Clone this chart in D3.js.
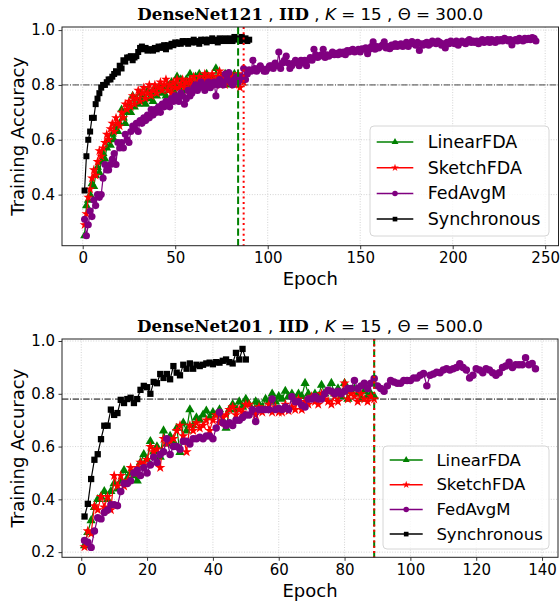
<!DOCTYPE html>
<html>
<head>
<meta charset="utf-8">
<script src="https://cdn.jsdelivr.net/npm/d3@7"></script>
<style>
    body { margin: 0; background: #fff; }
    text { font-family: "DejaVu Sans", sans-serif; }
</style>
</head>
<body>
<div id="chart"></div>
<script>
// ---- top panel: DenseNet121, theta 300 ----
const top_linear = [
    0.25, 0.36, 0.38, 0.40, 0.44, 0.43, 0.47, 0.50, 0.48, 0.52,
    0.55, 0.53, 0.57, 0.60, 0.58, 0.62, 0.60, 0.65, 0.63, 0.66,
    0.71, 0.68, 0.66, 0.70, 0.73, 0.70, 0.76, 0.72, 0.75, 0.73,
    0.77, 0.74, 0.76, 0.73, 0.78, 0.75, 0.77, 0.74, 0.79, 0.76,
    0.78, 0.80, 0.77, 0.79, 0.76, 0.80, 0.78, 0.81, 0.78, 0.80,
    0.83, 0.79, 0.82, 0.80, 0.78, 0.82, 0.80, 0.84, 0.81, 0.79,
    0.83, 0.81, 0.84, 0.80, 0.83, 0.81, 0.84, 0.82, 0.80, 0.83,
    0.81, 0.86, 0.82, 0.80, 0.83, 0.81, 0.84, 0.82, 0.80, 0.83,
    0.82, 0.84, 0.81, 0.83];
const top_sketch = [
    0.29, 0.33, 0.39, 0.42, 0.46, 0.49, 0.47, 0.52, 0.56, 0.54,
    0.57, 0.59, 0.62, 0.60, 0.64, 0.66, 0.63, 0.68, 0.66, 0.65,
    0.70, 0.68, 0.73, 0.71, 0.74, 0.72, 0.76, 0.73, 0.75, 0.78,
    0.74, 0.77, 0.79, 0.75, 0.77, 0.80, 0.76, 0.78, 0.80, 0.77,
    0.79, 0.81, 0.78, 0.80, 0.82, 0.78, 0.80, 0.77, 0.81, 0.79,
    0.82, 0.79, 0.80, 0.82, 0.79, 0.81, 0.78, 0.82, 0.80, 0.83,
    0.79, 0.81, 0.83, 0.80, 0.82, 0.84, 0.81, 0.83, 0.80, 0.84,
    0.82, 0.80, 0.83, 0.85, 0.81, 0.83, 0.80, 0.82, 0.84, 0.81,
    0.83, 0.80, 0.82, 0.84, 0.79, 0.83, 0.81];
const top_fedavgm = [
    0.31, 0.25, 0.29, 0.34, 0.32, 0.38, 0.36, 0.40, 0.39, 0.40,
    0.46, 0.51, 0.49, 0.49, 0.51, 0.53, 0.55, 0.51, 0.59, 0.57,
    0.59, 0.57, 0.62, 0.60, 0.59, 0.63, 0.65, 0.64, 0.66, 0.63,
    0.67, 0.66, 0.68, 0.67, 0.69, 0.68, 0.71, 0.69, 0.71, 0.70,
    0.72, 0.70, 0.73, 0.72, 0.74, 0.73, 0.72, 0.75, 0.74, 0.76,
    0.75, 0.74, 0.77, 0.76, 0.73, 0.75, 0.78, 0.76, 0.77, 0.79,
    0.80, 0.78, 0.79, 0.81, 0.80, 0.78, 0.80, 0.81, 0.79, 0.80,
    0.81, 0.76, 0.80, 0.82, 0.81, 0.80, 0.84, 0.82, 0.845, 0.81,
    0.80, 0.82, 0.83, 0.81, 0.82, 0.83, 0.86, 0.82, 0.84, 0.855,
    0.85, 0.89, 0.86, 0.85, 0.86, 0.87, 0.86, 0.85, 0.85, 0.86,
    0.87, 0.87, 0.86, 0.88, 0.87, 0.92, 0.86, 0.88, 0.89, 0.905,
    0.88, 0.86, 0.87, 0.88, 0.89, 0.88, 0.87, 0.89, 0.88, 0.89,
    0.87, 0.89, 0.90, 0.89, 0.93, 0.91, 0.90, 0.905, 0.91, 0.93,
    0.90, 0.91, 0.905, 0.91, 0.92, 0.91, 0.915, 0.91, 0.92, 0.914,
    0.92, 0.91, 0.925, 0.92, 0.926, 0.93, 0.92, 0.925, 0.93, 0.92,
    0.932, 0.93, 0.935, 0.914, 0.93, 0.94, 0.957, 0.93, 0.94, 0.935,
    0.94, 0.945, 0.957, 0.935, 0.94, 0.932, 0.945, 0.94, 0.95, 0.94,
    0.945, 0.95, 0.94, 0.945, 0.955, 0.94, 0.95, 0.958, 0.95, 0.945,
    0.955, 0.926, 0.95, 0.945, 0.952, 0.955, 0.945, 0.95, 0.96, 0.955,
    0.95, 0.96, 0.955, 0.945, 0.95, 0.935, 0.955, 0.95, 0.96, 0.955,
    0.95, 0.96, 0.945, 0.955, 0.96, 0.955, 0.95, 0.96, 0.965, 0.955,
    0.96, 0.955, 0.96, 0.95, 0.96, 0.965, 0.955, 0.96, 0.965, 0.955,
    0.965, 0.96, 0.955, 0.965, 0.96, 0.965, 0.96, 0.97, 0.965, 0.96,
    0.965, 0.946, 0.96, 0.965, 0.96, 0.97, 0.965, 0.96, 0.97, 0.965,
    0.97, 0.965, 0.973, 0.97, 0.96];
const top_sync = [
    0.415, 0.54, 0.60, 0.63, 0.68, 0.68, 0.73, 0.75, 0.77, 0.79,
    0.80, 0.80, 0.81, 0.82, 0.82, 0.83, 0.84, 0.85, 0.845, 0.87,
    0.86, 0.89, 0.885, 0.90, 0.90, 0.905, 0.89, 0.90, 0.905, 0.92,
    0.935, 0.94, 0.93, 0.935, 0.925, 0.93, 0.93, 0.925, 0.935, 0.93,
    0.94, 0.935, 0.94, 0.945, 0.93, 0.945, 0.94, 0.95, 0.945, 0.955,
    0.95, 0.955, 0.95, 0.96, 0.955, 0.96, 0.95, 0.96, 0.955, 0.965,
    0.955, 0.96, 0.95, 0.965, 0.96, 0.965, 0.955, 0.965, 0.96, 0.97,
    0.96, 0.965, 0.955, 0.97, 0.96, 0.965, 0.97, 0.96, 0.965, 0.97,
    0.96, 0.975, 0.965, 0.97, 0.96, 0.975, 0.965, 0.97, 0.96, 0.965];
const top_threshold = 0.8;
const top_xticks = [0, 50, 100, 150, 200, 250];
const top_yticks = [0.4, 0.6, 0.8, 1.0];

// ---- bottom panel: DenseNet201, theta 500 ----
const bot_linear = [
    0.225, 0.275, 0.32, 0.37, 0.40, 0.41, 0.43, 0.40, 0.43, 0.46,
    0.44, 0.47, 0.51, 0.48, 0.50, 0.49, 0.47, 0.54, 0.57, 0.55,
    0.62, 0.58, 0.60, 0.56, 0.66, 0.61, 0.64, 0.62, 0.67, 0.578,
    0.69, 0.66, 0.74, 0.68, 0.71, 0.70, 0.72, 0.735, 0.71, 0.73,
    0.72, 0.74, 0.70, 0.67, 0.74, 0.76, 0.74, 0.77, 0.75, 0.78,
    0.76, 0.73, 0.77, 0.76, 0.75, 0.78, 0.77, 0.80, 0.77, 0.79,
    0.78, 0.81, 0.79, 0.80, 0.78, 0.80, 0.79, 0.84, 0.80, 0.78,
    0.80, 0.79, 0.833, 0.80, 0.81, 0.84, 0.80, 0.82, 0.79, 0.84,
    0.78, 0.81, 0.82, 0.80, 0.78, 0.81, 0.79, 0.80, 0.79];
const bot_sketch = [
    0.22, 0.28, 0.27, 0.375, 0.36, 0.41, 0.37, 0.41, 0.36, 0.49,
    0.45, 0.49, 0.45, 0.47, 0.52, 0.50, 0.52, 0.54, 0.53, 0.55,
    0.60, 0.58, 0.59, 0.52, 0.63, 0.61, 0.62, 0.63, 0.66, 0.68,
    0.64, 0.58, 0.68, 0.66, 0.69, 0.67, 0.68, 0.70, 0.66, 0.70,
    0.72, 0.69, 0.71, 0.72, 0.74, 0.75, 0.72, 0.74, 0.73, 0.76,
    0.76, 0.74, 0.72, 0.75, 0.73, 0.74, 0.76, 0.73, 0.75, 0.73,
    0.73, 0.76, 0.735, 0.75, 0.74, 0.78, 0.74, 0.77, 0.76, 0.79,
    0.77, 0.76, 0.80, 0.78, 0.77, 0.76, 0.79, 0.77, 0.80, 0.84,
    0.78, 0.80, 0.79, 0.77, 0.80, 0.78, 0.77, 0.79, 0.78];
const bot_fedavgm = [
    0.244, 0.237, 0.218, 0.28, 0.33, 0.326, 0.35, 0.36, 0.38, 0.38,
    0.376, 0.43, 0.46, 0.46, 0.47, 0.50, 0.51, 0.49, 0.52, 0.50,
    0.53, 0.56, 0.54, 0.57, 0.58, 0.63, 0.57, 0.60, 0.60, 0.59,
    0.62, 0.62, 0.61, 0.63, 0.63, 0.635, 0.63, 0.64, 0.64, 0.63,
    0.67, 0.73, 0.69, 0.68, 0.69, 0.68, 0.70, 0.70, 0.71, 0.72,
    0.72, 0.74, 0.695, 0.74, 0.74, 0.74, 0.74, 0.78, 0.74, 0.744,
    0.74, 0.75, 0.74, 0.789, 0.77, 0.77, 0.757, 0.75, 0.78, 0.78,
    0.79, 0.78, 0.78, 0.80, 0.813, 0.81, 0.80, 0.81, 0.80, 0.81,
    0.82, 0.82, 0.85, 0.82, 0.83, 0.84, 0.82, 0.84, 0.858, 0.83,
    0.82, 0.81, 0.83, 0.85, 0.845, 0.84, 0.84, 0.85, 0.85, 0.85,
    0.86, 0.86, 0.87, 0.877, 0.83, 0.87, 0.875, 0.882, 0.88, 0.89,
    0.895, 0.89, 0.895, 0.90, 0.914, 0.90, 0.89, 0.86, 0.87, 0.895,
    0.89, 0.88, 0.895, 0.89, 0.88, 0.87, 0.88, 0.90, 0.905, 0.92,
    0.90, 0.91, 0.91, 0.91, 0.937, 0.91, 0.915, 0.895];
const bot_sync = [
    0.335, 0.383, 0.477, 0.55, 0.571, 0.628, 0.679, 0.679, 0.74, 0.72,
    0.727, 0.777, 0.765, 0.78, 0.785, 0.765, 0.78, 0.815, 0.83, 0.825,
    0.80, 0.845, 0.84, 0.875, 0.86, 0.875, 0.855, 0.905, 0.88, 0.87,
    0.91, 0.895, 0.915, 0.895, 0.91, 0.905, 0.91, 0.915, 0.918, 0.912,
    0.92, 0.918, 0.925, 0.93, 0.92, 0.915, 0.955, 0.93, 0.97, 0.93];
const bot_threshold = 0.78;
const bot_xticks = [0, 20, 40, 60, 80, 100, 120, 140];
const bot_yticks = [0.2, 0.4, 0.6, 0.8, 1.0];

const series_names = ["LinearFDA", "SketchFDA", "FedAvgM", "Synchronous"];
const series_colors = ["green", "red", "purple", "black"];

var svg = d3.select("#chart")
    .append("svg")
    .attr("width", 560)
    .attr("height", 606);

const symbols = [d3.symbolTriangle, d3.symbolStar, d3.symbolCircle, d3.symbolSquare];
const symbol_sizes = [34, 30, 40, 36];

const draw_panel = (p) => {
    var g = svg.append("g");
    var all_series = [p.linear, p.sketch, p.fedavgm, p.sync];

    // matplotlib style 5% margins round the data
    var n_max = d3.max(all_series, s => s.length);
    var x_pad = (n_max - 1) * 0.05;
    var x = d3.scaleLinear()
        .domain([1 - x_pad, n_max + x_pad])
        .range([p.left, p.right]);
    var [lo, hi] = d3.extent(all_series.flat());
    var y_pad = (hi - lo) * 0.05;
    var y = d3.scaleLinear()
        .domain([lo - y_pad, hi + y_pad])
        .range([p.bottom, p.top]);

    // grid
    g.append("g").selectAll("line")
        .data(p.xticks)
        .join("line")
        .attr("x1", d => x(d)).attr("x2", d => x(d))
        .attr("y1", p.top).attr("y2", p.bottom)
        .attr("stroke", "#c8c8c8").attr("stroke-width", 0.8)
        .attr("stroke-dasharray", "1,1.6");
    g.append("g").selectAll("line")
        .data(p.yticks)
        .join("line")
        .attr("x1", p.left).attr("x2", p.right)
        .attr("y1", d => y(d)).attr("y2", d => y(d))
        .attr("stroke", "#c8c8c8").attr("stroke-width", 0.8)
        .attr("stroke-dasharray", "1,1.6");

    // accuracy threshold
    g.append("line")
        .attr("x1", p.left).attr("x2", p.right)
        .attr("y1", y(p.threshold)).attr("y2", y(p.threshold))
        .attr("stroke", p.threshold_color).attr("stroke-width", 1)
        .attr("stroke-dasharray", "6.4,1.6,1,1.6");

    // the four runs
    all_series.forEach((s, k) => {
        var sg = g.append("g");
        sg.append("path")
            .datum(s)
            .attr("fill", "none")
            .attr("stroke", series_colors[k])
            .attr("stroke-width", 1.2)
            .attr("d", d3.line().x((d, i) => x(i + 1)).y(d => y(d)));
        sg.selectAll("path.mk")
            .data(s)
            .join("path")
            .attr("class", "mk")
            .attr("transform", (d, i) => `translate(${x(i + 1)},${y(d)})`)
            .attr("fill", series_colors[k])
            .attr("d", d3.symbol(symbols[k], symbol_sizes[k] * p.mk_scale));
    });

    // where the FDA runs stop
    g.append("line")
        .attr("x1", x(p.linear.length)).attr("x2", x(p.linear.length))
        .attr("y1", p.top).attr("y2", p.bottom)
        .attr("stroke", "green").attr("stroke-width", 2)
        .attr("stroke-dasharray", "7.4,3.2");
    g.append("line")
        .attr("x1", x(p.sketch.length)).attr("x2", x(p.sketch.length))
        .attr("y1", p.top).attr("y2", p.bottom)
        .attr("stroke", "red").attr("stroke-width", 2)
        .attr("stroke-dasharray", "2,3.3");

    // axes
    var xa = g.append("g")
        .attr("transform", `translate(0,${p.bottom})`)
        .call(d3.axisBottom(x).tickValues(p.xticks).tickSize(3.5).tickSizeOuter(0).tickPadding(3.5));
    var ya = g.append("g")
        .attr("transform", `translate(${p.left},0)`)
        .call(d3.axisLeft(y).tickValues(p.yticks).tickFormat(d3.format(".1f")).tickSize(3.5).tickSizeOuter(0).tickPadding(3.5));
    [xa, ya].forEach(a => {
        a.selectAll("text")
            .attr("fill", "#000")
            .style("font-size", p.tick_font + "px")
            .style("font-family", "DejaVu Sans");
        a.selectAll("line").attr("stroke", "#000").attr("stroke-width", 0.8);
        a.select(".domain").remove();
    });

    g.append("rect")
        .attr("x", p.left).attr("y", p.top)
        .attr("width", p.right - p.left).attr("height", p.bottom - p.top)
        .attr("fill", "none").attr("stroke", "#222").attr("stroke-width", 1);

    // labels
    g.append("text")
        .attr("x", (p.left + p.right) / 2)
        .attr("y", p.xlabel_y)
        .attr("text-anchor", "middle")
        .style("font-size", p.label_font + "px")
        .text("Epoch");
    g.append("text")
        .attr("transform", `translate(${p.ylabel_x},${(p.top + p.bottom) / 2}) rotate(-90)`)
        .attr("text-anchor", "middle")
        .style("font-size", p.label_font + "px")
        .text("Training Accuracy");

    // title, mathtext style
    var title = g.append("text")
        .attr("x", (p.left + p.right) / 2)
        .attr("y", p.title_y)
        .attr("text-anchor", "middle")
        .style("font-size", p.title_font + "px");
    title.append("tspan").style("font-family", "DejaVu Serif").style("font-weight", "bold").text(p.model);
    title.append("tspan").text(" , ");
    title.append("tspan").style("font-family", "DejaVu Serif").style("font-weight", "bold").text("IID");
    title.append("tspan").text(" , ");
    title.append("tspan").style("font-style", "italic").text("K");
    title.append("tspan").text(` = ${p.K} , Θ = ${p.theta}`);

    // legend
    var lg = g.append("g").attr("transform", `translate(${p.leg_x},${p.leg_y})`);
    lg.append("rect")
        .attr("width", p.leg_w).attr("height", p.leg_h)
        .attr("rx", 4)
        .attr("fill", "#fff").attr("fill-opacity", 0.8)
        .attr("stroke", "#d6d6d6").attr("stroke-width", 1);
    series_names.forEach((name, k) => {
        var cy = p.leg_first + k * p.leg_step;
        lg.append("line")
            .attr("x1", p.leg_line[0]).attr("x2", p.leg_line[1])
            .attr("y1", cy).attr("y2", cy)
            .attr("stroke", series_colors[k]).attr("stroke-width", 1.5);
        lg.append("path")
            .attr("transform", `translate(${(p.leg_line[0] + p.leg_line[1]) / 2},${cy})`)
            .attr("fill", series_colors[k])
            .attr("d", d3.symbol(symbols[k], symbol_sizes[k] * 0.6));
        lg.append("text")
            .attr("x", p.leg_text)
            .attr("y", cy)
            .attr("dominant-baseline", "central")
            .style("font-size", p.leg_font + "px")
            .text(name);
    });
};

draw_panel({
    linear: top_linear, sketch: top_sketch, fedavgm: top_fedavgm, sync: top_sync,
    threshold: top_threshold, threshold_color: "#444",
    xticks: top_xticks, yticks: top_yticks,
    model: "DenseNet121", K: 15, theta: "300.0",
    left: 62, right: 558.5, top: 27, bottom: 245.7,
    title_y: 20, title_font: 16.7, tick_font: 15, label_font: 18,
    xlabel_y: 285, ylabel_x: 24, mk_scale: 1,
    leg_x: 370, leg_y: 126, leg_w: 179, leg_h: 110,
    leg_first: 16, leg_step: 25.7, leg_line: [6.7, 43.3], leg_text: 57.7, leg_font: 17.5
});

draw_panel({
    linear: bot_linear, sketch: bot_sketch, fedavgm: bot_fedavgm, sync: bot_sync,
    threshold: bot_threshold, threshold_color: "#000",
    xticks: bot_xticks, yticks: bot_yticks,
    model: "DenseNet201", K: 15, theta: "500.0",
    left: 62, right: 558, top: 339, bottom: 557.3,
    title_y: 332, title_font: 16.7, tick_font: 15, label_font: 18,
    xlabel_y: 597, ylabel_x: 24, mk_scale: 1.1,
    leg_x: 383, leg_y: 446, leg_w: 166, leg_h: 103,
    leg_first: 14, leg_step: 24.7, leg_line: [6.7, 39.7], leg_text: 53.4, leg_font: 16.5
});
</script>
</body>
</html>
